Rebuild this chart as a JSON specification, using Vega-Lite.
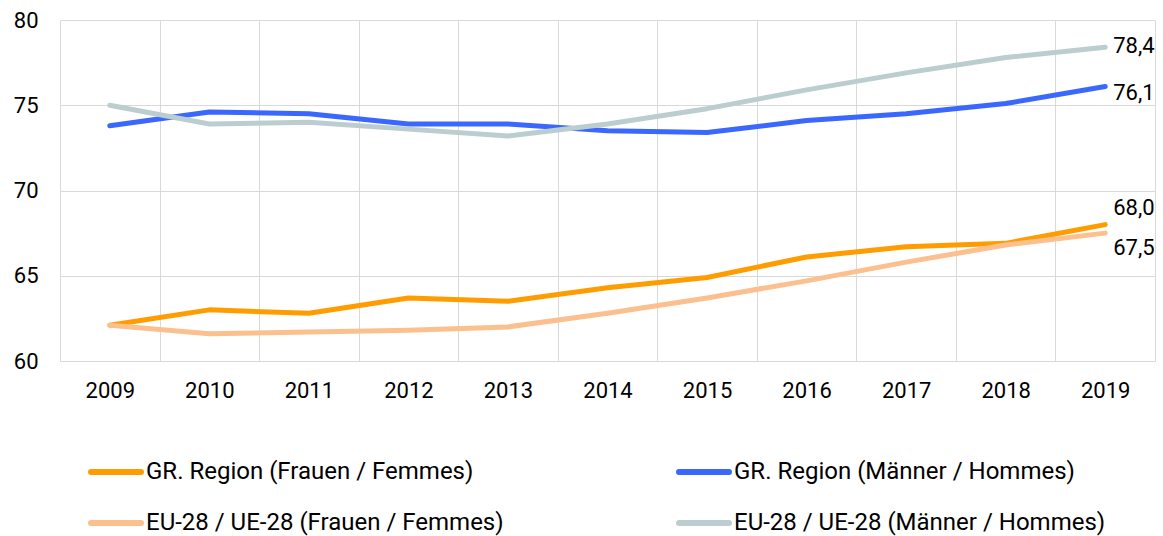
{
  "$schema": "https://vega.github.io/schema/vega-lite/v6.json",
  "width": 1095,
  "height": 341,
  "autosize": {"type": "none"},
  "padding": {"left": 60, "top": 20, "right": 8, "bottom": 175},
  "config": {
    "font": "Roboto",
    "view": {"stroke": null},
    "locale": {"number": {"decimal": ",", "thousands": ".", "grouping": [3], "currency": ["", " €"]}}
  },
  "data": {
    "values": [
      {"series": "GR. Region (Frauen / Femmes)", "year": 2009, "value": 62.1},
      {"series": "GR. Region (Frauen / Femmes)", "year": 2010, "value": 63.0},
      {"series": "GR. Region (Frauen / Femmes)", "year": 2011, "value": 62.8},
      {"series": "GR. Region (Frauen / Femmes)", "year": 2012, "value": 63.7},
      {"series": "GR. Region (Frauen / Femmes)", "year": 2013, "value": 63.5},
      {"series": "GR. Region (Frauen / Femmes)", "year": 2014, "value": 64.3},
      {"series": "GR. Region (Frauen / Femmes)", "year": 2015, "value": 64.9},
      {"series": "GR. Region (Frauen / Femmes)", "year": 2016, "value": 66.1},
      {"series": "GR. Region (Frauen / Femmes)", "year": 2017, "value": 66.7},
      {"series": "GR. Region (Frauen / Femmes)", "year": 2018, "value": 66.9},
      {"series": "GR. Region (Frauen / Femmes)", "year": 2019, "value": 68.0},
      {"series": "GR. Region (Männer / Hommes)", "year": 2009, "value": 73.8},
      {"series": "GR. Region (Männer / Hommes)", "year": 2010, "value": 74.6},
      {"series": "GR. Region (Männer / Hommes)", "year": 2011, "value": 74.5},
      {"series": "GR. Region (Männer / Hommes)", "year": 2012, "value": 73.9},
      {"series": "GR. Region (Männer / Hommes)", "year": 2013, "value": 73.9},
      {"series": "GR. Region (Männer / Hommes)", "year": 2014, "value": 73.5},
      {"series": "GR. Region (Männer / Hommes)", "year": 2015, "value": 73.4},
      {"series": "GR. Region (Männer / Hommes)", "year": 2016, "value": 74.1},
      {"series": "GR. Region (Männer / Hommes)", "year": 2017, "value": 74.5},
      {"series": "GR. Region (Männer / Hommes)", "year": 2018, "value": 75.1},
      {"series": "GR. Region (Männer / Hommes)", "year": 2019, "value": 76.1},
      {"series": "EU-28 / UE-28 (Frauen / Femmes)", "year": 2009, "value": 62.1},
      {"series": "EU-28 / UE-28 (Frauen / Femmes)", "year": 2010, "value": 61.6},
      {"series": "EU-28 / UE-28 (Frauen / Femmes)", "year": 2011, "value": 61.7},
      {"series": "EU-28 / UE-28 (Frauen / Femmes)", "year": 2012, "value": 61.8},
      {"series": "EU-28 / UE-28 (Frauen / Femmes)", "year": 2013, "value": 62.0},
      {"series": "EU-28 / UE-28 (Frauen / Femmes)", "year": 2014, "value": 62.8},
      {"series": "EU-28 / UE-28 (Frauen / Femmes)", "year": 2015, "value": 63.7},
      {"series": "EU-28 / UE-28 (Frauen / Femmes)", "year": 2016, "value": 64.7},
      {"series": "EU-28 / UE-28 (Frauen / Femmes)", "year": 2017, "value": 65.8},
      {"series": "EU-28 / UE-28 (Frauen / Femmes)", "year": 2018, "value": 66.8},
      {"series": "EU-28 / UE-28 (Frauen / Femmes)", "year": 2019, "value": 67.5},
      {"series": "EU-28 / UE-28 (Männer / Hommes)", "year": 2009, "value": 75.0},
      {"series": "EU-28 / UE-28 (Männer / Hommes)", "year": 2010, "value": 73.9},
      {"series": "EU-28 / UE-28 (Männer / Hommes)", "year": 2011, "value": 74.0},
      {"series": "EU-28 / UE-28 (Männer / Hommes)", "year": 2012, "value": 73.6},
      {"series": "EU-28 / UE-28 (Männer / Hommes)", "year": 2013, "value": 73.2},
      {"series": "EU-28 / UE-28 (Männer / Hommes)", "year": 2014, "value": 73.9},
      {"series": "EU-28 / UE-28 (Männer / Hommes)", "year": 2015, "value": 74.8},
      {"series": "EU-28 / UE-28 (Männer / Hommes)", "year": 2016, "value": 75.9},
      {"series": "EU-28 / UE-28 (Männer / Hommes)", "year": 2017, "value": 76.9},
      {"series": "EU-28 / UE-28 (Männer / Hommes)", "year": 2018, "value": 77.8},
      {"series": "EU-28 / UE-28 (Männer / Hommes)", "year": 2019, "value": 78.4}
    ]
  },
  "encoding": {
    "x": {
      "field": "year",
      "type": "ordinal",
      "bandPosition": 0.5,
      "scale": {"type": "band", "paddingInner": 0, "paddingOuter": 0},
      "axis": {"title": null, "tickBand": "extent", "grid": true, "gridColor": "#d9d9d9", "gridWidth": 1, "ticks": false, "tickSize": 0, "domain": false, "labelFontSize": 22, "labelColor": "#000000", "labelPadding": 19, "labelAngle": 0}
    },
    "y": {
      "field": "value",
      "type": "quantitative",
      "scale": {"domain": [60, 80], "nice": false, "zero": false},
      "axis": {"title": null, "values": [60, 65, 70, 75, 80], "grid": true, "gridColor": "#d9d9d9", "gridWidth": 1, "ticks": false, "tickSize": 0, "domain": false, "labelFontSize": 22, "labelColor": "#000000", "labelPadding": 22}
    }
  },
  "layer": [
    {
      "mark": {"type": "line", "strokeWidth": 5, "strokeCap": "round", "strokeJoin": "round"},
      "encoding": {
        "color": {
          "field": "series",
          "type": "nominal",
          "sort": null,
          "scale": {
            "domain": ["GR. Region (Frauen / Femmes)", "GR. Region (Männer / Hommes)", "EU-28 / UE-28 (Frauen / Femmes)", "EU-28 / UE-28 (Männer / Hommes)"],
            "range": ["#ff9c00", "#3a67fd", "#fbc08e", "#bccdd0"]
          },
          "legend": {
            "title": null,
            "orient": "none",
            "direction": "horizontal",
            "legendX": 28,
            "legendY": 424,
            "columns": 2,
            "padding": 0,
            "symbolType": "stroke",
            "symbolSize": 2500,
            "symbolStrokeWidth": 6,
            "labelFontSize": 24,
            "labelColor": "#000000",
            "labelOffset": 2,
            "labelLimit": 0,
            "columnPadding": 163,
            "rowPadding": 11,
            "encode": {"symbols": {"update": {"strokeCap": {"value": "round"}}}}
          }
        }
      }
    },
    {
      "transform": [{"filter": "datum.year == 2019 && (datum.series == 'GR. Region (Männer / Hommes)')"}],
      "mark": {"type": "text", "align": "left", "baseline": "middle", "dx": 8, "dy": 7, "fontSize": 22, "color": "#000000"},
      "encoding": {"text": {"field": "value", "type": "quantitative", "format": ".1f"}}
    },
    {
      "transform": [{"filter": "datum.year == 2019 && (datum.series == 'EU-28 / UE-28 (Männer / Hommes)')"}],
      "mark": {"type": "text", "align": "left", "baseline": "middle", "dx": 8, "dy": -1, "fontSize": 22, "color": "#000000"},
      "encoding": {"text": {"field": "value", "type": "quantitative", "format": ".1f"}}
    },
    {
      "transform": [{"filter": "datum.year == 2019 && datum.series == 'GR. Region (Frauen / Femmes)'"}],
      "mark": {"type": "text", "align": "left", "baseline": "middle", "dx": 8, "dy": -17, "fontSize": 22, "color": "#000000"},
      "encoding": {"text": {"field": "value", "type": "quantitative", "format": ".1f"}}
    },
    {
      "transform": [{"filter": "datum.year == 2019 && datum.series == 'EU-28 / UE-28 (Frauen / Femmes)'"}],
      "mark": {"type": "text", "align": "left", "baseline": "middle", "dx": 8, "dy": 15, "fontSize": 22, "color": "#000000"},
      "encoding": {"text": {"field": "value", "type": "quantitative", "format": ".1f"}}
    }
  ]
}
